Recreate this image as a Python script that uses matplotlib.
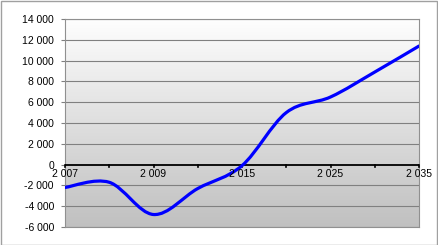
import numpy as np
import matplotlib
matplotlib.use("Agg")
import matplotlib.pyplot as plt
from matplotlib.path import Path
from matplotlib.patches import PathPatch, Rectangle
from matplotlib.colors import LinearSegmentedColormap

plt.rcParams['font.family'] = ['Liberation Sans', 'DejaVu Sans']

categories = ["2 007", "2008", "2 009", "2010", "2 015", "2020", "2 025", "2030", "2 035"]
shown_labels = ["2 007", "", "2 009", "", "2 015", "", "2 025", "", "2 035"]
values = [-2200, -1700, -4800, -2300, -100, 5000, 6500, 8900, 11400]
yticks = [-6000, -4000, -2000, 0, 2000, 4000, 6000, 8000, 10000, 12000, 14000]
ytick_labels = ["-6 000", "-4 000", "-2 000", "0", "2 000", "4 000", "6 000", "8 000", "10 000", "12 000", "14 000"]

W, H, DPI = 438, 245, 100
fig = plt.figure(figsize=(W / DPI, H / DPI), dpi=DPI)
fig.patch.set_facecolor("white")
fig.patches.append(Rectangle((0.5 / W, 0.5 / H), 1 - 1.5 / W, 1 - 1.5 / H, transform=fig.transFigure,
                             fill=False, edgecolor="#a0a0a0", linewidth=1.0))

left, right, top, bottom = 65, 419, 19, 227
ax = fig.add_axes([left / W, 1 - bottom / H, (right - left) / W, (bottom - top) / H])
x = np.arange(len(categories))
ax.set_xlim(0, len(categories) - 1)
ax.set_ylim(-6000, 14000)

grad = np.linspace(0, 1, 256).reshape(-1, 1)
cmap = LinearSegmentedColormap.from_list("g", ["#c0c0c0", "#fefefe"])
ax.imshow(grad, extent=[0, 1, 0, 1], transform=ax.transAxes, origin="lower",
          aspect="auto", cmap=cmap, zorder=0)

for yv in yticks:
    if yv != 0:
        ax.axhline(yv, color="#808080", linewidth=0.8, zorder=1)

pts = np.column_stack([x, values]).astype(float)
verts = [tuple(pts[0])]
codes = [Path.MOVETO]
n = len(pts)
for i in range(n - 1):
    p0 = pts[i - 1] if i > 0 else pts[i]
    p1 = pts[i]
    p2 = pts[i + 1]
    p3 = pts[i + 2] if i + 2 < n else pts[i + 1]
    c1 = p1 + (p2 - p0) / 6.0
    c2 = p2 - (p3 - p1) / 6.0
    verts += [tuple(c1), tuple(c2), tuple(p2)]
    codes += [Path.CURVE4] * 3
ax.add_patch(PathPatch(Path(verts, codes), fill=False, edgecolor="#0000ff", linewidth=2.3, zorder=4,
                       capstyle="round", joinstyle="round"))

ax.axhline(0, color="black", linewidth=1.3, zorder=3)
for xi in x:
    ax.plot([xi, xi], [0, -220], color="black", linewidth=1.2, zorder=3, clip_on=False)
for xi, lab in zip(x, shown_labels):
    if lab:
        ax.text(xi, -420, lab, ha="center", va="top", fontsize=7.5, color="black", zorder=5)

ax.set_xticks([])
ax.set_yticks(yticks)
ax.set_yticklabels(ytick_labels, fontsize=7.5)
ax.tick_params(axis="y", length=3, width=0.8, color="#808080", pad=5)
for s in ax.spines.values():
    s.set_color("#909090")
    s.set_linewidth(0.8)

fig.savefig("out.png", dpi=DPI)
